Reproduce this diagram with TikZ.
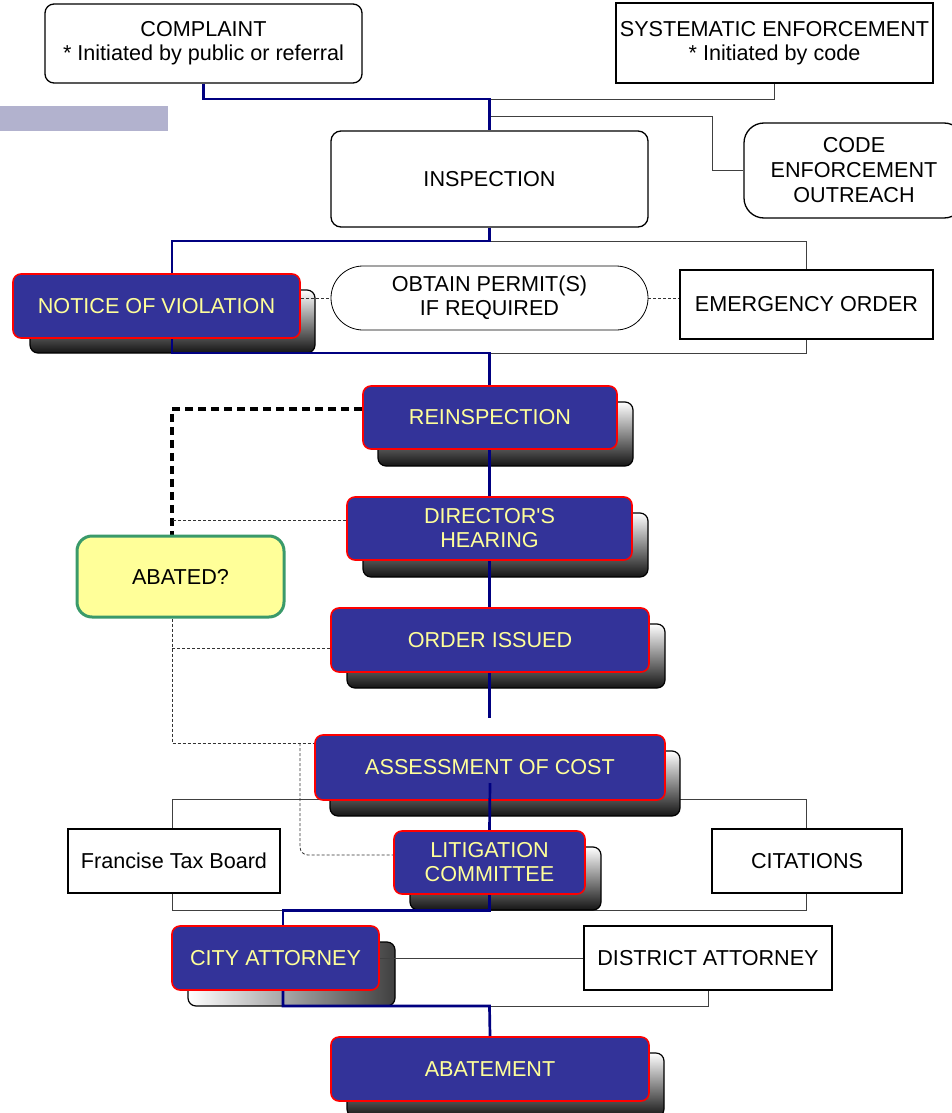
\documentclass[tikz,border=0pt]{standalone}
\usepackage{fontspec}
\setmainfont{Liberation Sans}[Ligatures=TeXOff]
\usetikzlibrary{calc,backgrounds}
\definecolor{boxblue}{HTML}{333399}
\definecolor{txtyellow}{HTML}{FFFF99}
\definecolor{navyline}{HTML}{000080}
\definecolor{abgreen}{HTML}{3A9A6A}
\definecolor{barblue}{HTML}{B2B2CE}
\tikzset{
  wbox/.style={draw=black, line width=1.3pt, fill=white, text=black, align=center, inner sep=0pt},
  bbox/.style={draw=red, line width=1.6pt, fill=boxblue, text=txtyellow, rounded corners=8pt, align=center, inner sep=0pt},
  shbox/.style={draw=black, line width=1.2pt, rounded corners=8pt, top color=white, bottom color=black!92, inner sep=0pt},
  shboxh/.style={draw=black, line width=1.2pt, rounded corners=8pt, left color=white, right color=black!75, inner sep=0pt},
  navy/.style={draw=navyline, line width=2.7pt},
  thinline/.style={draw=black!75, line width=0.8pt},
  dotline/.style={draw=black!80, line width=0.8pt, dash pattern=on 3pt off 2pt},
  bigdash/.style={draw=black, line width=3.5pt, dash pattern=on 8pt off 5pt}
}
\begin{document}
\begin{tikzpicture}[x=1pt,y=-1pt,font=\fontsize{21.6}{24}\selectfont]
\useasboundingbox (0,0) rectangle (951,1113);
\fill[barblue] (0,106) rectangle (168,131);

% white boxes
\node[wbox, rounded corners=9pt, minimum width=317pt, minimum height=79pt] (complaint) at (203.5,43.5) {COMPLAINT\\* Initiated by public or referral};
\node[wbox, minimum width=317pt, minimum height=80pt] (system) at (774.5,43) {SYSTEMATIC ENFORCEMENT\\* Initiated by code};
\node[wbox, rounded corners=10pt, minimum width=317pt, minimum height=96pt] (insp) at (489.5,179) {INSPECTION};
\node[wbox, rounded corners=20pt, minimum width=220pt, minimum height=95pt, font=\fontsize{21.6}{25}\selectfont] (outreach) at (854,170.5) {CODE\\ENFORCEMENT\\OUTREACH};
\node[wbox, line width=0.8pt, rounded corners=32pt, minimum width=317pt, minimum height=64pt] (permit) at (489.5,298) {OBTAIN PERMIT(S)\\IF REQUIRED};
\node[wbox, minimum width=253pt, minimum height=69pt] (emerg) at (806.5,304.5) {EMERGENCY ORDER};
\node[wbox, minimum width=212pt, minimum height=64pt] (ftb) at (174,861) {Francise Tax Board};
\node[wbox, minimum width=190pt, minimum height=64pt] (citations) at (807,861) {CITATIONS};
\node[wbox, minimum width=248pt, minimum height=64pt] (district) at (708,958) {DISTRICT ATTORNEY};

% abated
\node[draw=abgreen, line width=3pt, fill=txtyellow, rounded corners=15pt, minimum width=207pt, minimum height=81pt, inner sep=0pt] (abated) at (180.5,576.5) {ABATED?};

% blue boxes
\node[bbox, minimum width=287pt, minimum height=64pt] (nov) at (156.5,306) {NOTICE OF VIOLATION};
\node[bbox, minimum width=254pt, minimum height=63pt] (reinsp) at (490,417.5) {REINSPECTION};
\node[bbox, minimum width=285pt, minimum height=63pt] (director) at (489.5,528.5) {DIRECTOR'S\\HEARING};
\node[bbox, minimum width=318pt, minimum height=64pt] (order) at (490,640) {ORDER ISSUED};
\node[bbox, minimum width=350pt, minimum height=65pt] (assess) at (490,767.5) {ASSESSMENT OF COST};
\draw[navy] ([yshift=-15.5pt]assess.center) -- (489.5,831);
\node[bbox, minimum width=191pt, minimum height=63pt] (litig) at (489.5,862.5) {LITIGATION\\COMMITTEE};
\node[bbox, minimum width=207pt, minimum height=64pt] (city) at (275.5,958) {CITY ATTORNEY};
\node[bbox, minimum width=318pt, minimum height=64pt] (abate) at (490,1069) {ABATEMENT};

\coordinate (j1) at (489.5,99);
\coordinate (j2) at (489.5,116);
\coordinate (j3) at (489.5,241);
\coordinate (j4) at (489.5,353);
\coordinate (j5) at (489.5,718);
\coordinate (colL) at (172,0);
\coordinate (cx) at (283,0);
\coordinate (j9) at (489.5,1006);

\begin{scope}[on background layer]
  % gray frame around FTB / citations
  \draw[thinline] (172,799) rectangle (806,910);
  % shadows
  \node[shbox, minimum width=285pt, minimum height=63pt] (novsh) at (172.5,321.5) {};
  \node[shbox, minimum width=255pt, minimum height=64pt] (reinspsh) at (505.5,434) {};
  \node[shbox, minimum width=285pt, minimum height=64pt] (directorsh) at (505.5,545) {};
  \node[shbox, minimum width=318pt, minimum height=64pt] (ordersh) at (506,656) {};
  \node[shbox, minimum width=350pt, minimum height=65pt] (assesssh) at (505,783.5) {};
  \node[shbox, minimum width=191pt, minimum height=63pt] (litigsh) at (505.5,878.5) {};
  \node[shboxh, minimum width=207pt, minimum height=64pt] (citysh) at (291.5,974) {};
  \node[shbox, minimum width=317pt, minimum height=64pt] (abatesh) at (505.5,1085) {};

  % thin connectors
  \draw[thinline] (system.south) |- (j1);
  \draw[thinline] (j2) -- ++(222.5,0) |- (outreach.west);
  \draw[thinline] (j3) -| (emerg.north);
  \draw[thinline] (emerg.south) |- (j4);
  \draw[thinline] (city.east) -- (district.west);
  \draw[thinline] (district.south) |- (j9);

  % dotted connectors
  \draw[dotline] (nov.east |- permit.west) -- (permit.west);
  \draw[dotline] (permit.east) -- (emerg.west |- permit.east);
  \draw[bigdash] ([yshift=8.5pt]reinsp.west) -| (abated.north -| colL);
  \draw[dotline] ([yshift=8pt]director.west) -- ++(-175,0);
  \draw[dotline] (abated.south -| colL) |- ([yshift=24.5pt]assess.west);
  \draw[dotline] ([yshift=-8pt]order.west) -- ++(-159,0);
  \draw[dotline, rounded corners=8pt] (300,743) |- ([yshift=7.5pt]litig.west);

  % navy connectors
  \draw[navy] (complaint.south) |- (j1) -- (insp.north);
  \draw[navy] (insp.south) -- (j3) -| (colL |- j4) -- (j4) -- (j5);
  \draw[navy] (litig.south) -- ++(0,16) -| (city.north -| cx);
  \draw[navy] (city.south -| cx) |- (j9) -- (abate.north);
\end{scope}
\end{tikzpicture}
\end{document}
